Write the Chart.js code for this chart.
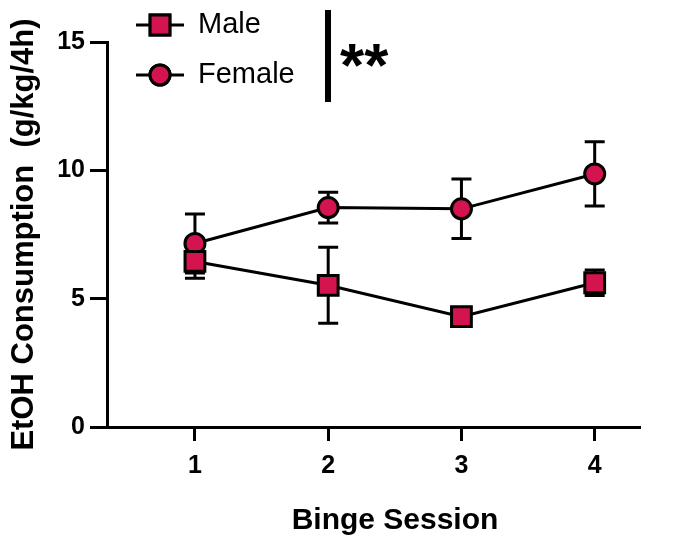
<!DOCTYPE html>
<html>
<head>
<meta charset="utf-8">
<script src="https://cdn.jsdelivr.net/npm/chart.js@4.4.1/dist/chart.umd.min.js"></script>
<style>
  html, body { margin: 0; padding: 0; background: #fff; }
  #wrap { width: 680px; height: 540px; }
</style>
</head>
<body>
<div id="wrap"><canvas id="chart" width="680" height="540"></canvas></div>
<script>
// binge sessions on the x axis
const sessions = [1, 2, 3, 4];
const yTicks = [0, 5, 10, 15];

// means and SEM
const maleMean = [6.45, 5.52, 4.3, 5.62];
const maleSem = [0.65, 1.48, 0.3, 0.5];
const femaleMean = [7.15, 8.55, 8.5, 9.86];
const femaleSem = [1.15, 0.6, 1.16, 1.25];

const FILL = '#d3144f';
const FONT = "'Liberation Sans', Arial, sans-serif";

function toPoints(means) {
    return sessions.map((s, i) => ({ x: s, y: means[i] }));
}

const errorBars = {
    id: 'errorBars',
    beforeDatasetsDraw(chart) {
        const ctx = chart.ctx;
        const yScale = chart.scales.y;
        const sems = [maleSem, femaleSem];
        const means = [maleMean, femaleMean];
        ctx.save();
        ctx.strokeStyle = '#000';
        ctx.lineWidth = 3;
        chart.data.datasets.forEach((ds, d) => {
            const meta = chart.getDatasetMeta(d);
            meta.data.forEach((pt, i) => {
                const top = yScale.getPixelForValue(means[d][i] + sems[d][i]);
                const bot = yScale.getPixelForValue(means[d][i] - sems[d][i]);
                ctx.beginPath();
                ctx.moveTo(pt.x, top);
                ctx.lineTo(pt.x, bot);
                ctx.moveTo(pt.x - 10, top);
                ctx.lineTo(pt.x + 10, top);
                ctx.moveTo(pt.x - 10, bot);
                ctx.lineTo(pt.x + 10, bot);
                ctx.stroke();
            });
        });
        ctx.restore();
    }
};

// legend, significance mark and x title (sits a bit right of centre)
const legendBox = {
    id: 'legendBox',
    afterDraw(chart) {
        const ctx = chart.ctx;
        const items = [
            { label: 'Male', style: 'rect', radius: 14, y: 25 },
            { label: 'Female', style: 'circle', radius: 10, y: 75 }
        ];
        ctx.save();
        items.forEach(it => {
            ctx.strokeStyle = '#000';
            ctx.lineWidth = 3;
            ctx.beginPath();
            ctx.moveTo(136, it.y);
            ctx.lineTo(184, it.y);
            ctx.stroke();
            ctx.fillStyle = FILL;
            Chart.helpers.drawPoint(ctx, { pointStyle: it.style, radius: it.radius, borderWidth: 3 }, 160, it.y);
            ctx.fill();
            ctx.stroke();
            ctx.fillStyle = '#000';
            ctx.font = '29px ' + FONT;
            ctx.textBaseline = 'middle';
            ctx.fillText(it.label, 198, it.y);
        });
        ctx.lineWidth = 6;
        ctx.beginPath();
        ctx.moveTo(328, 10);
        ctx.lineTo(328, 102);
        ctx.stroke();
        ctx.font = 'bold 62px ' + FONT;
        ctx.textBaseline = 'alphabetic';
        ctx.fillText('**', 340, 86);

        ctx.font = 'bold 30px ' + FONT;
        ctx.textAlign = 'center';
        ctx.fillText('Binge Session', 395, 529);
        ctx.restore();
    }
};

new Chart(document.getElementById('chart'), {
    type: 'line',
    data: {
        datasets: [
            {
                label: 'Male',
                data: toPoints(maleMean),
                borderColor: '#000',
                borderWidth: 3,
                pointStyle: 'rect',
                pointRadius: 14,
                pointBackgroundColor: FILL,
                pointBorderColor: '#000',
                pointBorderWidth: 3
            },
            {
                label: 'Female',
                data: toPoints(femaleMean),
                borderColor: '#000',
                borderWidth: 3,
                pointStyle: 'circle',
                pointRadius: 10,
                pointBackgroundColor: FILL,
                pointBorderColor: '#000',
                pointBorderWidth: 3
            }
        ]
    },
    options: {
        responsive: false,
        animation: false,
        events: [],
        layout: { padding: { top: 42, right: 40, bottom: 0, left: 0 } },
        plugins: {
            legend: { display: false },
            tooltip: { enabled: false }
        },
        scales: {
            x: {
                type: 'linear',
                min: 0.34,
                max: 4.34,
                afterBuildTicks: scale => { scale.ticks = sessions.map(v => ({ value: v })); },
                afterFit: scale => { scale.height = 113; },
                border: { color: '#000', width: 3 },
                grid: { drawOnChartArea: false, drawTicks: true, tickLength: 14, tickColor: '#000', tickWidth: 3 },
                ticks: { color: '#000', font: { family: FONT, size: 25, weight: 'bold' }, padding: 10, autoSkip: false }
            },
            y: {
                min: 0,
                max: 15,
                afterBuildTicks: scale => { scale.ticks = yTicks.map(v => ({ value: v })); },
                afterFit: scale => { scale.width = 107; },
                border: { color: '#000', width: 3 },
                grid: { drawOnChartArea: false, drawTicks: true, tickLength: 17, tickColor: '#000', tickWidth: 3 },
                ticks: { color: '#000', font: { family: FONT, size: 25, weight: 'bold' }, padding: 5 },
                title: { display: true, text: 'EtOH Consumption  (g/kg/4h)', color: '#000', font: { family: FONT, size: 31, weight: 'bold' }, padding: { top: 6, bottom: 0 } }
            }
        }
    },
    plugins: [errorBars, legendBox]
});
</script>
</body>
</html>
